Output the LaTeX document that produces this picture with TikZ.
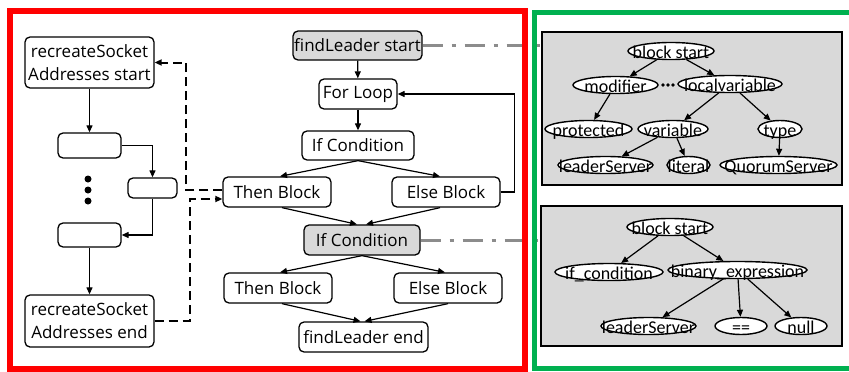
\documentclass[tikz,border=0pt]{standalone}
\usepackage{fontspec}
\setmainfont{Open Sans}
\newfontfamily\astfont{Carlito}
\usetikzlibrary{arrows.meta,shapes.geometric,backgrounds}
\definecolor{frameRed}{RGB}{255,0,0}
\definecolor{frameGreen}{RGB}{0,176,80}
\definecolor{boxGray}{RGB}{217,217,217}
\definecolor{linkGray}{RGB}{140,140,140}

\begin{document}
\begin{tikzpicture}[x=1pt,y=-1pt,
        >={Triangle[length=7pt,width=6pt]},
        blk/.style={draw,line width=1.3pt,rounded corners=5pt,fill=white,
            inner sep=0pt,align=center,font=\fontsize{17}{23}\selectfont},
        hl/.style={blk,fill=boxGray},
        ast/.style={draw,ellipse,line width=1.4pt,fill=white,inner xsep=-45pt,
            inner ysep=-10pt,text height=14pt,text depth=0pt,
            font=\astfont\fontsize{18}{20}\selectfont},
        treebox/.style={draw,line width=2pt,fill=boxGray,inner sep=0pt},
        flow/.style={->,line width=1.2pt},
        jump/.style={->,line width=2pt,dash pattern=on 9pt off 5pt},
        link/.style={linkGray,line width=3pt,dash pattern=on 20pt off 9pt on 4pt off 9pt}]
    \useasboundingbox (0,0) rectangle (849,372);
    % frames
    \draw[frameRed,line width=6pt] (10,11) rectangle (525,369);
    \draw[frameGreen,line width=5pt] (860,12) -- (534,12) -- (534,368) -- (860,368);

    % recreateSocketAddresses
    \node[blk,minimum width=129pt,minimum height=51pt] (rsStart) at (89.5,62.5)
        {recreateSocket\\Addresses start};
    \node[blk,minimum width=63pt,minimum height=25pt] (bx1) at (89.5,145.5) {};
    \node[blk,minimum width=49pt,minimum height=20pt] (bx2) at (152.5,188) {};
    \node[blk,minimum width=63pt,minimum height=24pt] (bx3) at (89.5,235) {};
    \node[blk,minimum width=129pt,minimum height=52pt] (rsEnd) at (89.5,321)
        {recreateSocket\\Addresses end};
    \foreach \y in {179,190,201}
        \fill (88,\y) circle (3.5pt);
    \draw[flow] (rsStart) -- (bx1);
    \draw[flow] (bx1.east) -| (bx2.north);
    \draw[flow] (bx2.south) |- (bx3.east);
    \draw[flow] (bx3) -- (rsEnd);

    % findLeader
    \node[hl,minimum width=129pt,minimum height=29pt] (flStart) at (357.5,45.5) {findLeader start};
    \node[blk,minimum width=78pt,minimum height=30pt] (forLoop) at (358,94) {For Loop};
    \node[blk,minimum width=112pt,minimum height=29pt] (ifCond1) at (358,145.5) {If Condition};
    \node[blk,minimum width=108pt,minimum height=30pt] (then1) at (277,192) {Then Block};
    \node[blk,minimum width=108pt,minimum height=30pt] (else1) at (446,192) {Else Block};
    \node[hl,minimum width=116pt,minimum height=30pt] (ifCond2) at (362,240) {If Condition};
    \node[blk,minimum width=108pt,minimum height=30pt] (then2) at (278,288) {Then Block};
    \node[blk,minimum width=108pt,minimum height=30pt] (else2) at (448,288) {Else Block};
    \node[blk,minimum width=129pt,minimum height=30pt] (flEnd) at (363.5,337) {findLeader end};
    \draw[flow] (flStart) -- (forLoop);
    \draw[flow] (forLoop) -- (ifCond1);
    \draw[flow] (ifCond1.south) -- ([xshift=3pt]then1.north);
    \draw[flow] (ifCond1.south) -- ([xshift=-6pt]else1.north);
    \draw[flow] ([xshift=5pt]then1.south) -- ([xshift=-5pt]ifCond2.north);
    \draw[flow] ([xshift=-6pt]else1.south) -- ([xshift=4pt]ifCond2.north);
    \draw[flow] (else1.east) -- ++(14,0) |- (forLoop.east);
    \draw[flow] (ifCond2.south) -- ([xshift=2pt]then2.north);
    \draw[flow] (ifCond2.south) -- ([xshift=-3pt]else2.north);
    \draw[flow] ([xshift=4pt]then2.south) -- ([xshift=-3pt]flEnd.north);
    \draw[flow] (else2.south) -- ([xshift=1pt]flEnd.north);

    % calls
    \draw[jump] (rsEnd.east) -- ++(35,0) |- ([yshift=-7pt]then1.west);
    \draw[jump] ([yshift=2pt]then1.west) -- ++(-36,0) |- (rsStart.east);

    % AST of findLeader start
    \node[treebox,minimum width=300pt,minimum height=153pt] (tree1) at (692,108.5) {};
    \node[ast,minimum width=86pt,minimum height=17pt] (bs1) at (671,51) {block start};
    \node[ast,minimum width=85pt,minimum height=17pt] (mod) at (615.5,85) {modifier};
    \node[ast,minimum width=104pt,minimum height=17pt] (lvar) at (730,84) {localvariable};
    \node[ast,minimum width=87pt,minimum height=17pt] (prot) at (588.5,129) {protected};
    \node[ast,minimum width=70pt,minimum height=17pt] (var) at (673,129) {variable};
    \node[ast,minimum width=44pt,minimum height=17pt] (type) at (780,129) {type};
    \node[ast,minimum width=95pt,minimum height=17pt] (ls1) at (605.5,165) {leaderServer};
    \node[ast,minimum width=43pt,minimum height=17pt] (lit) at (688.5,165) {literal};
    \node[ast,minimum width=117pt,minimum height=17pt] (qs) at (778.5,165) {QuorumServer};
    \foreach \i in {0,1,2}
        \fill (663+5*\i,85) circle (1.8pt);
    \draw[flow] (bs1) -- (mod);
    \draw[flow] (bs1) -- (lvar);
    \draw[flow] (mod) -- (prot);
    \draw[flow] (lvar) -- (var);
    \draw[flow] (lvar) -- (type);
    \draw[flow] (var) -- (ls1);
    \draw[flow] (var) -- (lit);
    \draw[flow] (type) -- (qs);

    % AST of If Condition
    \node[treebox,minimum width=301pt,minimum height=140pt] (tree2) at (691.5,276) {};
    \node[ast,minimum width=86pt,minimum height=17pt] (bs2) at (670,227) {block start};
    \node[ast,minimum width=108pt,minimum height=17pt] (ifc) at (609,272) {if\_condition};
    \node[ast,minimum width=139pt,minimum height=17pt] (bin) at (737.5,270) {binary\_expression};
    \node[ast,minimum width=95pt,minimum height=17pt] (ls2) at (648.5,326) {leaderServer};
    \node[ast,minimum width=52pt,minimum height=17pt] (eq) at (741,326) {==};
    \node[ast,minimum width=52pt,minimum height=17pt] (nul) at (801,326) {null};
    \draw[flow] (bs2) -- (ifc);
    \draw[flow] (bs2) -- (bin);
    \draw[flow] (bin) -- (ls2);
    \draw[flow] (bin) -- (eq);
    \draw[flow] (bin) -- (nul);

    % links to the ASTs
    \begin{pgfonlayer}{background}
        \draw[link] (flStart.east) -- (flStart.east -| tree1.west);
        \draw[link] (ifCond2.east) -- (ifCond2.east -| tree2.west);
    \end{pgfonlayer}
\end{tikzpicture}
\end{document}
